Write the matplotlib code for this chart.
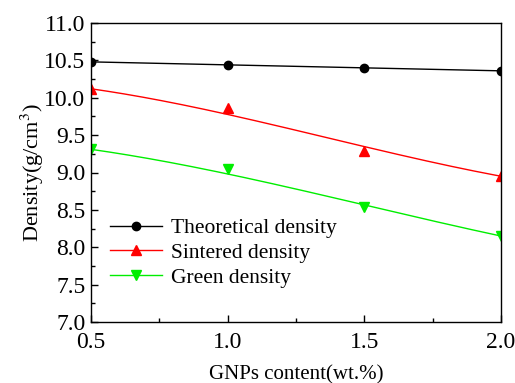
import numpy as np
import matplotlib
matplotlib.use("Agg")
import matplotlib.pyplot as plt
from matplotlib.ticker import MultipleLocator

plt.rcParams['font.family'] = ['Liberation Serif', 'DejaVu Serif']
plt.rcParams['mathtext.fontset'] = 'stix'

gnps = [0.5, 1.0, 1.5, 2.0]
theoretical = [10.48, 10.44, 10.40, 10.36]
sintered = [10.12, 9.86, 9.29, 8.95]
green = [9.31, 9.05, 8.54, 8.15]


def bezier(xs, ys, n=200):
    # curva suave tipo B-spline (como Origin), puntos como control
    t = np.linspace(0, 1, n)
    b = [(1 - t) ** 3, 3 * t * (1 - t) ** 2, 3 * t ** 2 * (1 - t), t ** 3]
    bx = sum(w * v for w, v in zip(b, xs))
    by = sum(w * v for w, v in zip(b, ys))
    return bx, by


fig = plt.figure(figsize=(5.15, 3.83), dpi=100)
ax = fig.add_axes([91 / 515, 1 - 322 / 383, 410 / 515, 299 / 383])

series = [
    (theoretical, 'black', 'o', 6, 'Theoretical density'),
    (sintered, 'red', '^', 7, 'Sintered density'),
    (green, '#00ee00', 'v', 7, 'Green density'),
]
for ys, col, mk, ms, lab in series:
    cx, cy = bezier(gnps, ys)
    ax.plot(cx, cy, color=col, linewidth=1.0)
    ax.plot(gnps, ys, linestyle='none', marker=mk, color=col, markersize=ms)
    ax.plot([], [], color=col, marker=mk, markersize=ms, linewidth=1.0, label=lab)

ax.set_xlim(0.5, 2.0)
ax.set_ylim(7.0, 11.0)
ax.xaxis.set_major_locator(MultipleLocator(0.5))
ax.xaxis.set_minor_locator(MultipleLocator(0.25))
ax.yaxis.set_major_locator(MultipleLocator(0.5))
ax.yaxis.set_minor_locator(MultipleLocator(0.25))
ax.xaxis.set_major_formatter(plt.FormatStrFormatter('%.1f'))
ax.yaxis.set_major_formatter(plt.FormatStrFormatter('%.1f'))
ax.tick_params(which='both', direction='in', top=False, right=False, labelsize=17)
ax.tick_params(which='major', length=5, width=1)
ax.tick_params(which='minor', length=3, width=1)
ax.tick_params(axis='x', pad=7)
ax.tick_params(axis='y', pad=4)
for s in ax.spines.values():
    s.set_linewidth(1.0)

ax.set_xlabel('GNPs content(wt.%)', fontsize=15, labelpad=9)
ax.set_ylabel('Density(g/cm$^3$)', fontsize=16, labelpad=-1)

ax.legend(loc='lower left', bbox_to_anchor=(0.0, 0.05), frameon=False,
          fontsize=15.5, handlelength=2.4, labelspacing=0.22, handletextpad=0.4)

fig.savefig('out.png', dpi=100)
